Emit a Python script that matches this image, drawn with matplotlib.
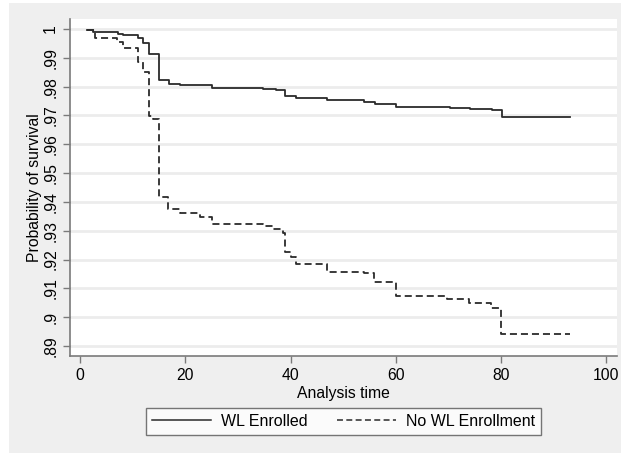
import matplotlib.pyplot as plt
from matplotlib.patches import Rectangle
from matplotlib.lines import Line2D

# ==========================
# DATA
# ==========================

# WL Enrolled (solid step curve)
wl_time = [1.3, 2.5, 7.3, 8.2, 11.1, 11.9, 13.1, 15.0, 16.9, 19.0, 25.0, 34.7,
           37.3, 38.9, 41.0, 46.9, 54.0, 56.0, 60.1, 70.2, 74.0, 78.2, 80.1, 93.0]
wl_surv = [0.9997, 0.9989, 0.9982, 0.9979, 0.9968, 0.9950, 0.9912, 0.9823, 0.9811,
           0.9806, 0.9796, 0.9793, 0.9789, 0.9769, 0.9759, 0.9754, 0.9747, 0.9741,
           0.9731, 0.9727, 0.9723, 0.9719, 0.9695, 0.9695]

# No WL Enrollment (dashed step curve)
nowl_time = [1.3, 2.8, 7.0, 8.2, 11.1, 11.9, 13.1, 13.9, 15.0, 16.8, 19.0, 22.8,
             25.0, 34.8, 36.7, 38.6, 39.0, 40.1, 41.1, 46.9, 54.0, 55.8, 60.1,
             69.8, 73.8, 78.0, 79.9, 93.0]
nowl_surv = [0.9997, 0.9968, 0.9956, 0.9933, 0.9887, 0.9852, 0.9698, 0.9688,
             0.9418, 0.9374, 0.9360, 0.9348, 0.9325, 0.9317, 0.9306, 0.9293,
             0.9227, 0.9210, 0.9186, 0.9157, 0.9152, 0.9123, 0.9074, 0.9062,
             0.9048, 0.9030, 0.8943, 0.8943]

y_ticks = [0.89, 0.90, 0.91, 0.92, 0.93, 0.94, 0.95, 0.96, 0.97, 0.98, 0.99, 1.0]
y_labels = [".89", ".9", ".91", ".92", ".93", ".94", ".95", ".96", ".97", ".98", ".99", "1"]
x_ticks = [0, 20, 40, 60, 80, 100]

# ==========================
# PLOT
# ==========================
plt.rcParams["font.family"] = ["Liberation Sans", "DejaVu Sans"]
FS = 11.3
LINE_C = "#2b2b2b"
DASH = (3.9, 2.2)

W, H = 621, 454
fig = plt.figure(figsize=(W / 100, H / 100), dpi=100, facecolor="white")

# stata-like grey outer region (behind the axes)
fig.patches.append(Rectangle((9 / W, 1 - 453 / H), (W - 9) / W, 450 / H,
                             transform=fig.transFigure, facecolor="#efefef",
                             edgecolor="none", zorder=-10))

ax = fig.add_axes([70 / W, 1 - 356 / H, (617 - 70) / W, (356 - 19) / H])
ax.set_facecolor("white")

ax.step(wl_time, wl_surv, where="post", color=LINE_C, lw=1.3, label="WL Enrolled")
ax.step(nowl_time, nowl_surv, where="post", color=LINE_C, lw=1.3,
        dashes=DASH, label="No WL Enrollment")

ax.set_xlim(-1.9, 102)
ax.set_ylim(0.8865, 1.0035)

ax.set_yticks(y_ticks)
ax.set_yticklabels(y_labels, rotation=90, va="center")
ax.set_xticks(x_ticks)
ax.grid(axis="y", color="#ececec", lw=2)
ax.set_axisbelow(True)

for side in ["top", "right"]:
    ax.spines[side].set_visible(False)
for side in ["left", "bottom"]:
    ax.spines[side].set_color("#7a7a7a")
    ax.spines[side].set_linewidth(1.2)
ax.tick_params(colors="#7a7a7a", labelcolor="black", length=5, width=1,
               labelsize=FS)
ax.tick_params(axis="x", pad=4)

ax.set_ylabel("Probability of survival", fontsize=FS, labelpad=1)
ax.set_xlabel("Analysis time", fontsize=FS, labelpad=2)

handles = [Line2D([], [], color=LINE_C, lw=1.1),
           Line2D([], [], color=LINE_C, lw=1.1, dashes=DASH)]
leg = fig.legend(handles, ["WL Enrolled", "No WL Enrollment"], ncol=2,
                 loc="center", bbox_to_anchor=(343.5 / W, 1 - 421.5 / H),
                 frameon=True, fancybox=False, fontsize=11.5, handlelength=3.7,
                 handletextpad=0.65, columnspacing=1.8, borderpad=0.35)
leg.get_frame().set_edgecolor("#555555")
leg.get_frame().set_linewidth(1.0)

fig.savefig("out.png", dpi=100, facecolor=fig.get_facecolor())
